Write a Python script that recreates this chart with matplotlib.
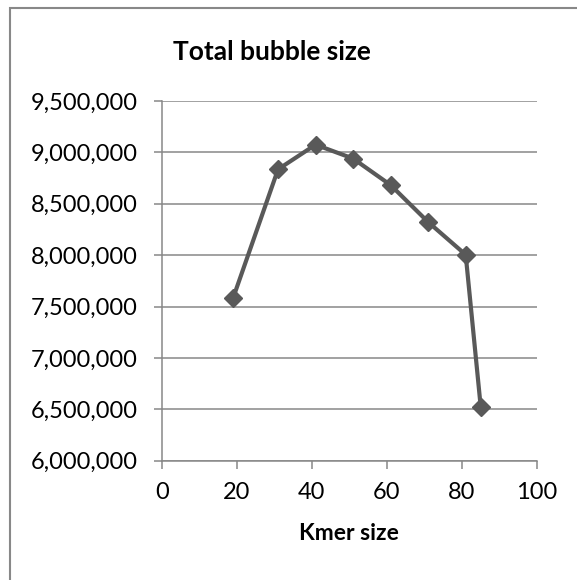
import matplotlib
matplotlib.use("Agg")
import matplotlib.pyplot as plt
from matplotlib.patches import Rectangle
from matplotlib.ticker import FuncFormatter

# data
kmer_size = [19, 31, 41, 51, 61, 71, 81, 85]
bubble_size = [7580000, 8835000, 9075000, 8940000, 8682000, 8322000, 8004000, 6525000]
x_ticks = [0, 20, 40, 60, 80, 100]
y_ticks = [6000000, 6500000, 7000000, 7500000, 8000000, 8500000, 9000000, 9500000]

TITLE = "Total bubble size"
XLABEL = "Kmer size"

W, H = 577, 580
plt.rcParams["font.family"] = ["Lato", "DejaVu Sans"]

fig = plt.figure(figsize=(W / 100, H / 100), dpi=100)
fig.patch.set_facecolor("white")

# chart frame (only left and top edges visible in the crop)
fig.patches.append(Rectangle((10 / W, -0.2), 1.5, 1.2 - 8 / H,
                             transform=fig.transFigure, fill=False,
                             edgecolor="#888888", linewidth=1.5))

ax = fig.add_axes([161.7 / W, 1 - 460.7 / H, (537 - 161.7) / W, (460.7 - 101) / H])
ax.plot(kmer_size, bubble_size, color="#595959", linewidth=3,
        marker="D", markersize=9.5, markerfacecolor="#595959",
        markeredgecolor="#595959", zorder=3)

ax.set_xlim(0, 100)
ax.set_ylim(6000000, 9500000)
ax.set_xticks(x_ticks)
ax.set_yticks(y_ticks)
ax.yaxis.set_major_formatter(FuncFormatter(lambda v, p: f"{int(v):,}"))

ax.grid(axis="y", color="#878787", linewidth=1.1)
ax.set_axisbelow(True)
for s in ["top", "right"]:
    ax.spines[s].set_visible(False)
for s in ["left", "bottom"]:
    ax.spines[s].set_color("#878787")
    ax.spines[s].set_linewidth(1.1)
ax.tick_params(axis="both", colors="#878787", width=1.1, length=5.5,
               labelcolor="black", labelsize=17)
ax.tick_params(axis="y", pad=12)
ax.tick_params(axis="x", pad=10)

ax.set_xlabel(XLABEL, fontsize=16.5, fontweight="bold", labelpad=14)
fig.text(272 / W, 1 - 52 / H, TITLE, fontsize=19, fontweight="bold",
         ha="center", va="center")

fig.savefig("out.png", dpi=100)
